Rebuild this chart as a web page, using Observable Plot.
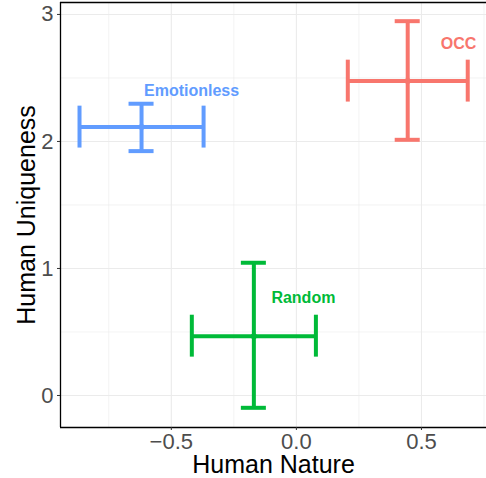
<!DOCTYPE html>
<html>
<head>
<meta charset="utf-8">
<script src="https://cdn.jsdelivr.net/npm/d3@7"></script>
<script src="https://cdn.jsdelivr.net/npm/@observablehq/plot@0.6"></script>
<style>
  html, body { margin: 0; padding: 0; background: #fff; }
</style>
</head>
<body>
<div id="chart"></div>
<script>
// ---- data ----
const conditions = ["OCC", "Emotionless", "Random"];
const colors = ["#F8766D", "#619CFF", "#00BA38"];
const natureMean = [0.445, -0.619, -0.170];
const natureLow = [0.2055, -0.867, -0.418];
const natureHigh = [0.685, -0.371, 0.078];
const uniqMean = [2.475, 2.113, 0.467];
const uniqLow = [2.013, 1.924, -0.097];
const uniqHigh = [2.947, 2.297, 1.045];
const labelX = [0.648, -0.419, 0.028];
const labelY = [2.772, 2.40, 0.766];

const xTicks = [-0.5, 0, 0.5];
const xMinor = [-0.75, -0.25, 0.25, 0.75];
const yTicks = [0, 1, 2, 3];
const yMinor = [0.5, 1.5, 2.5];
const xDomain = [-0.943, 0.760];
const yDomain = [-0.252, 3.094];

const xTitle = "Human Nature";
const yTitle = "Human Uniqueness";

const capW = 0.1;   // x units
const capH = 0.33;  // y units

const data = conditions.map((c, i) => ({
  c, color: colors[i],
  x: natureMean[i], xl: natureLow[i], xh: natureHigh[i],
  y: uniqMean[i], yl: uniqLow[i], yh: uniqHigh[i],
  lx: labelX[i], ly: labelY[i]
}));

const grid = "#EBEBEB";
const fnt = "'Liberation Sans', Arial, Helvetica, sans-serif";

const chart = Plot.plot({
  width: 486,
  height: 478,
  marginLeft: 60,
  marginRight: 0,
  marginTop: 2,
  marginBottom: 51,
  style: { fontFamily: fnt, background: "#fff", overflow: "visible" },
  x: { domain: xDomain, range: [60, 486] },
  y: { domain: yDomain },
  marks: [
    Plot.ruleX(xMinor, { stroke: grid, strokeWidth: 0.6 }),
    Plot.ruleY(yMinor, { stroke: grid, strokeWidth: 0.6 }),
    Plot.ruleX(xTicks, { stroke: grid, strokeWidth: 1.1 }),
    Plot.ruleY(yTicks, { stroke: grid, strokeWidth: 1.1 }),
    // panel lines (left, top, bottom)
    Plot.ruleX([xDomain[0]], { stroke: "#000", strokeWidth: 1.3 }),
    Plot.ruleY([yDomain[0], yDomain[1]], { stroke: "#000", strokeWidth: 1.3 }),
    // error bars
    Plot.ruleY(data, { y: "y", x1: "xl", x2: "xh", stroke: "color", strokeWidth: 4 }),
    Plot.ruleX(data, { x: "x", y1: "yl", y2: "yh", stroke: "color", strokeWidth: 4 }),
    Plot.ruleY(data, { y: "yh", x1: d => d.x - capW / 2, x2: d => d.x + capW / 2, stroke: "color", strokeWidth: 4 }),
    Plot.ruleY(data, { y: "yl", x1: d => d.x - capW / 2, x2: d => d.x + capW / 2, stroke: "color", strokeWidth: 4 }),
    Plot.ruleX(data, { x: "xl", y1: d => d.y - capH / 2, y2: d => d.y + capH / 2, stroke: "color", strokeWidth: 4 }),
    Plot.ruleX(data, { x: "xh", y1: d => d.y - capH / 2, y2: d => d.y + capH / 2, stroke: "color", strokeWidth: 4 }),
    Plot.dot(data, { x: "x", y: "y", r: 3, fill: "color" }),
    Plot.text(data, { x: "lx", y: "ly", text: "c", fill: "color", fontWeight: "bold", fontSize: 16 }),
    // axes
    Plot.axisX(xTicks, { tickFormat: d3.format(".1f"), fontSize: 22, color: "#4D4D4D", stroke: "#333", tickSize: 3, tickPadding: 3, label: null }),
    Plot.axisY(yTicks, { tickFormat: d3.format("d"), fontSize: 22, color: "#4D4D4D", stroke: "#333", tickSize: 3, tickPadding: 4, label: null }),
    Plot.text([xTitle], { frameAnchor: "bottom", dy: 45, lineAnchor: "bottom", textAnchor: "middle", fontSize: 25, fill: "#000" }),
    Plot.text([yTitle], { frameAnchor: "left", dx: -34, rotate: -90, textAnchor: "middle", lineAnchor: "middle", fontSize: 25, fill: "#000" })
  ]
});
document.getElementById("chart").appendChild(chart);
</script>
</body>
</html>
